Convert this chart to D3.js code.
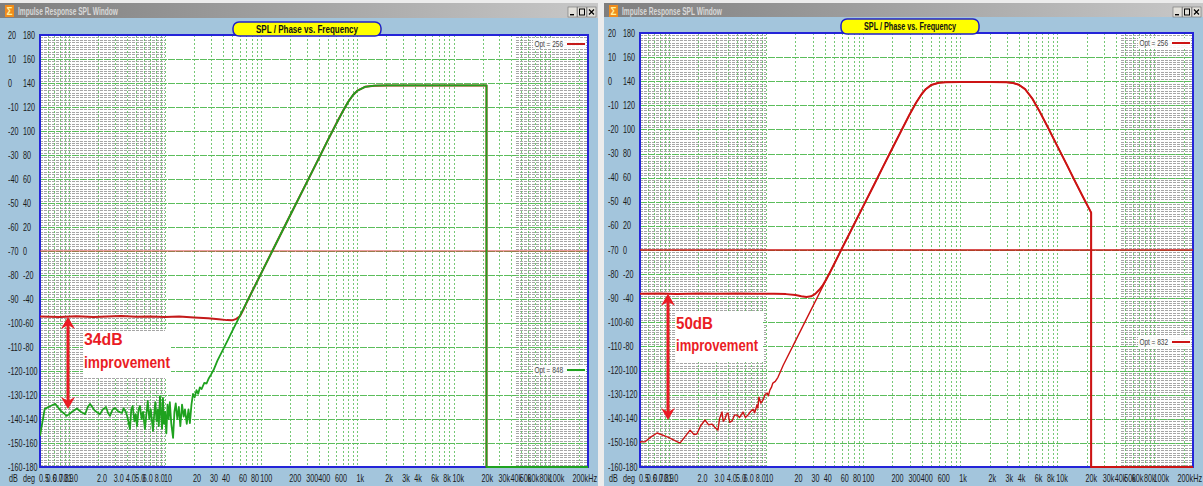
<!DOCTYPE html>
<html>
<head>
<meta charset="utf-8">
<script src="https://cdn.jsdelivr.net/npm/d3@7"></script>
<style>
  body { margin: 0; background: #ececec; }
  svg { display: block; }
  .narrow { font-family: 'Liberation Sans', Arial, sans-serif; }
</style>
</head>
<body>
<svg id="chart" width="1203" height="486"></svg>
<script>
// ---- axis values ----
const dbTicks = [20, 10, 0, -10, -20, -30, -40, -50, -60, -70, -80, -90, -100, -110, -120, -130, -140, -150, -160];
const degTicks = [180, 160, 140, 120, 100, 80, 60, 40, 20, 0, -20, -40, -60, -80, -100, -120, -140, -160, -180];
const freqTicks = [0.5, 0.6, 0.7, 0.8, 0.9, 1, 2, 3, 4, 5, 6, 8, 10, 20, 30, 40, 60, 80, 100, 200, 300, 400, 600,
  1000, 2000, 3000, 4000, 6000, 8000, 10000, 20000, 30000, 40000, 50000, 60000, 80000, 100000, 200000];
const freqTickLabels = ["0.5", "0.6", "0.7", "0.8", "0.9", "1.0", "2.0", "3.0", "4.0", "5.0", "6.0", "8.0", "10", "20", "30", "40", "60", "80", "100", "200", "300", "400", "600",
  "1k", "2k", "3k", "4k", "6k", "8k", "10k", "20k", "30k", "40k", "50k", "60k", "80k", "100k", "200kHz"];
const freqDomain = [0.5, 250000];
const dbDomain = [-160, 20];
const degDomain = [-180, 180];
// shaded bands outside the valid measurement range (Hz)
const hatchBands = [[0.5, 10], [45000, 250000]];

// ---- left window: SPL [Hz, dB] ----
const leftOpt256 = [[0.5, -97.3], [0.8, -97.5], [1.2, -97.2], [1.8, -97.5], [2.5, -97.3], [3.5, -97.1], [5, -97.4], [7, -97.3],
  [10, -97.5], [14, -97.3], [20, -97.7], [28, -98.0], [36, -98.4], [44, -98.8], [50, -98.9], [55, -98.3], [60, -97.2],
  [65, -94.5], [70, -91.7], [80, -87.0], [100, -79.2], [150, -65.1], [200, -55.1], [300, -41.1], [400, -31.1], [500, -23.3],
  [600, -17.1], [700, -12.0], [800, -7.9], [900, -5.0], [1000, -3.2], [1200, -1.6], [1500, -1.1], [2000, -1.0],
  [22000, -1.0], [22000, -160], [250000, -160]];
const leftOpt848 = [[0.5, -147], [0.51, -145], [0.56, -135.8], [0.65, -134.5], [0.72, -133.7], [0.82, -136.5], [0.95, -138.7],
  [1.08, -137], [1.21, -135.6], [1.33, -137], [1.47, -138], [1.57, -135], [1.66, -133.7], [1.85, -136.5], [2.1, -138],
  [2.25, -136], [2.43, -135], [2.55, -137.5], [2.67, -138.7], [2.85, -136], [3.01, -135.4], [3.25, -136.8], [3.56, -137.5],
  [3.7, -135.5], [3.9, -137], [4.05, -139], [4.31, -144.2], [4.45, -136], [4.6, -134.6], [4.8, -141], [4.95, -138],
  [5.1, -143], [5.3, -136], [5.48, -134.6], [5.7, -140], [5.9, -137], [6.17, -144.2], [6.35, -139], [6.6, -132.5],
  [6.85, -140], [7.1, -136], [7.48, -145], [7.7, -138], [7.9, -133], [8.15, -141], [8.4, -136], [8.6, -143], [8.84, -130.5],
  [9.1, -139], [9.3, -144], [9.5, -131.2], [9.75, -142], [10.0, -137], [10.3, -146], [10.6, -134], [10.9, -140],
  [11.2, -133], [11.6, -142], [12.1, -147.9], [12.5, -137], [12.9, -133.5], [13.4, -140], [13.9, -135], [14.4, -143],
  [15.0, -134], [15.6, -139], [16.1, -136], [16.8, -142], [17.5, -136], [18.1, -141.7], [18.8, -134], [19.5, -129.5],
  [20.3, -131], [21.2, -128], [22.1, -129.5], [23, -126.8], [24, -127.5], [25.5, -125], [27, -125.2], [28.5, -123],
  [30, -121.5], [32, -119.5], [35, -115.7], [40, -111.1], [45, -107.0], [50, -103.3], [60, -97.0], [70, -91.6], [80, -87.0],
  [100, -79.2], [150, -65.1], [200, -55.1], [300, -41.1], [400, -31.1], [500, -23.3], [600, -17.1], [700, -12.0],
  [800, -7.9], [900, -5.0], [1000, -3.2], [1200, -1.6], [1500, -1.1], [2000, -1.0], [22000, -1.0], [22000, -160], [250000, -160]];
const leftPhase = [[0.5, 0], [250000, 0]];

// ---- right window: SPL [Hz, dB] ----
const rightOpt256 = [[0.5, -88.1], [0.8, -88.0], [1.2, -88.2], [2, -88.0], [3, -88.1], [5, -88.0], [8, -88.1], [12, -88.1],
  [16, -88.3], [20, -88.7], [23, -89.2], [26, -89.5], [29, -89.2], [32, -88.2], [35, -86.6], [38, -84.8], [42, -81.8],
  [46, -78.8], [50, -75.9], [60, -69.5], [70, -64.2], [80, -59.5], [100, -51.8], [130, -42.7], [160, -35.4], [200, -27.7],
  [250, -20.0], [300, -13.8], [350, -8.9], [400, -5.3], [440, -3.3], [500, -1.6], [600, -0.65], [700, -0.4], [1000, -0.3],
  [2000, -0.3], [3000, -0.43], [3500, -0.73], [4000, -1.44], [4650, -3.3], [5500, -7.1], [6500, -12.2], [8000, -19.2],
  [10000, -26.9], [12500, -34.6], [15000, -41.0], [18000, -47.3], [22300, -54.5], [22300, -160], [250000, -160]];
const rightOpt832 = [[0.5, -150], [0.51, -149.5], [0.56, -149.6], [0.65, -147.5], [0.75, -145.9], [0.97, -147.6], [1.29, -150.1],
  [1.45, -147.5], [1.64, -144.7], [1.8, -146.5], [1.93, -146.3], [2.1, -143], [2.34, -140.5], [2.55, -142.5], [2.76, -142.2],
  [2.95, -143.5], [3.18, -144.7], [3.3, -140], [3.5, -137.2], [3.6, -141], [3.76, -140.1], [3.9, -138], [4.03, -137.6],
  [4.2, -141.5], [4.44, -140.9], [4.7, -138.5], [5.0, -138.4], [5.3, -139.5], [5.76, -137.2], [6.1, -139.5], [6.49, -138.4],
  [6.9, -137], [7.31, -136.0], [7.6, -137.5], [8.03, -134.3], [8.2, -135.5], [8.4, -131.0], [8.8, -133.5], [9.27, -132.2],
  [9.7, -130], [10.2, -129.3], [10.5, -130.5], [10.9, -128.1], [11.3, -127], [11.7, -125.2], [12.4, -124.5], [13.2, -122.8],
  [15, -117.7], [20, -107.7], [25, -99.9], [30, -93.6], [40, -83.6], [50, -75.9], [60, -69.5], [70, -64.2], [80, -59.5],
  [100, -51.8], [130, -42.7], [160, -35.4], [200, -27.7], [250, -20.0], [300, -13.8], [350, -8.9], [400, -5.3], [440, -3.3],
  [500, -1.6], [600, -0.65], [700, -0.4], [1000, -0.3], [2000, -0.3], [3000, -0.43], [3500, -0.73], [4000, -1.44],
  [4650, -3.3], [5500, -7.1], [6500, -12.2], [8000, -19.2], [10000, -26.9], [12500, -34.6], [15000, -41.0], [18000, -47.3],
  [22300, -54.5], [22300, -160], [250000, -160]];
const rightPhase = [[0.5, 0], [250000, 0]];

// improvement markers: [dB at top, dB at bottom]
const leftImprovement = [-97.5, -135.8];
const rightImprovement = [-88.1, -140.5];

const panels = [
  {
    id: "L", ox: 0, w: 598, barBottom: 18,
    plot: { l: 40, r: 588, t: 35, b: 467 },
    title: { x: 233, y: 22, w: 148, h: 14 },
    series: [
      { data: leftPhase, color: "#d83a3a", width: 1, scale: "deg" },
      { data: leftOpt256, color: "#c41a1a", width: 2 },
      { data: leftOpt848, color: "#1fa21f", width: 1.8 }
    ],
    legends: [
      { label: "Opt = 256", color: "#c41a1a", y: 44 },
      { label: "Opt = 848", color: "#1fa21f", y: 370 }
    ],
    arrow: { x: 68, range: leftImprovement },
    note: { text: ["34dB", "improvement"], x: 84, y: [345, 368], box: [83, 331, 88, 47], len: 86 }
  },
  {
    id: "R", ox: 604, w: 599, barBottom: 17,
    plot: { l: 640, r: 1193, t: 33, b: 467 },
    title: { x: 841, y: 19, w: 138, h: 15 },
    series: [
      { data: rightPhase, color: "#cc1414", width: 1.5, scale: "deg" },
      { data: rightOpt832, color: "#cc1414", width: 1.4 },
      { data: rightOpt256, color: "#cc1414", width: 2 }
    ],
    legends: [
      { label: "Opt = 256", color: "#cc1414", y: 43 },
      { label: "Opt = 832", color: "#cc1414", y: 342 }
    ],
    arrow: { x: 668, range: rightImprovement },
    note: { text: ["50dB", "improvement"], x: 676, y: [329, 351], box: [675, 313, 88, 49], len: 82 }
  }
];

const svg = d3.select("#chart");
const defs = svg.append("defs");
const grad = defs.append("linearGradient").attr("id", "titlebar").attr("x1", 0).attr("x2", 1);
grad.append("stop").attr("offset", 0).attr("stop-color", "#7e7e7e");
grad.append("stop").attr("offset", 1).attr("stop-color", "#c8c8c8");

// condensed label: the UI font is a narrow face, so glyphs are squeezed horizontally
const SQUEEZE = 0.72;
function narrowLabel(sel, x, y, txt, anchor) {
  return sel.append("text").attr("class", "narrow")
    .attr("transform", `translate(${x},${y}) scale(${SQUEEZE},1)`)
    .attr("text-anchor", anchor || "start").text(txt);
}

panels.forEach(p => {
  const g = svg.append("g");
  const P = p.plot;
  const x = d3.scaleLog().domain(freqDomain).range([P.l, P.r]);
  const y = d3.scaleLinear().domain(dbDomain).range([P.b, P.t]);
  const yDeg = d3.scaleLinear().domain(degDomain).range([P.b, P.t]);

  // window body and title bar
  g.append("rect").attr("x", p.ox).attr("y", 3).attr("width", p.w).attr("height", 483).attr("fill", "#a3c5dc");
  g.append("rect").attr("x", p.ox).attr("y", 3).attr("width", p.w).attr("height", p.barBottom - 3).attr("fill", "url(#titlebar)");
  g.append("rect").attr("x", p.ox + 5).attr("y", 5).attr("width", 9).attr("height", 12).attr("fill", "#f08c1c");
  g.append("text").attr("x", p.ox + 9.5).attr("y", 15).attr("text-anchor", "middle")
    .attr("font-size", 10).attr("font-weight", "bold").attr("fill", "#fff2a0").attr("font-family", "Liberation Sans, sans-serif").text("Σ");
  g.append("text").attr("class", "narrow").attr("x", p.ox + 18).attr("y", 14.5)
    .attr("font-size", 10).attr("font-weight", "bold").attr("fill", "#d8d8d8")
    .attr("textLength", 100).attr("lengthAdjust", "spacingAndGlyphs").text("Impulse Response SPL Window");
  // window buttons
  const bx = p.ox + p.w - 30;
  [0, 1, 2].forEach(i => {
    const b = g.append("g").attr("transform", `translate(${bx + i * 9.5},7)`);
    b.append("rect").attr("width", 9).attr("height", 10).attr("fill", "#e2e0da").attr("stroke", "#707070").attr("stroke-width", 0.6);
    if (i === 0) b.append("rect").attr("x", 2).attr("y", 7).attr("width", 4).attr("height", 1.4).attr("fill", "#000");
    if (i === 1) b.append("rect").attr("x", 2).attr("y", 2).attr("width", 5).attr("height", 6).attr("fill", "none").attr("stroke", "#000").attr("stroke-width", 1);
    if (i === 2) b.append("path").attr("d", "M2,2.5L7,7.5M7,2.5L2,7.5").attr("stroke", "#000").attr("stroke-width", 1.2);
  });

  // plot background
  g.append("rect").attr("x", P.l).attr("y", P.t).attr("width", P.r - P.l).attr("height", P.b - P.t).attr("fill", "#ffffff");

  // shaded bands: dense grey dashed rules every 1 dB
  const grid = g.append("g").attr("shape-rendering", "crispEdges");
  hatchBands.forEach(([f0, f1]) => {
    const x0 = x(f0), x1 = Math.min(x(f1), P.r);
    grid.selectAll(null).data(d3.range(dbDomain[0], dbDomain[1], 1)).join("line")
      .attr("x1", x0).attr("x2", x1).attr("y1", d => Math.round(y(d)) + 0.5).attr("y2", d => Math.round(y(d)) + 0.5)
      .attr("stroke", "#a6a6a6").attr("stroke-width", 1).attr("stroke-dasharray", "3,1");
  });
  // vertical frequency grid
  grid.selectAll(null).data(x.ticks().filter(f => f > freqDomain[0] && f < freqDomain[1])).join("line")
    .attr("x1", d => Math.round(x(d)) + 0.5).attr("x2", d => Math.round(x(d)) + 0.5).attr("y1", P.t).attr("y2", P.b)
    .attr("stroke", "#5fbf5f").attr("stroke-width", 1).attr("stroke-dasharray", "2,2").attr("opacity", 0.85);
  // horizontal dB grid
  grid.selectAll(null).data(dbTicks.filter(d => d > dbDomain[0] && d < dbDomain[1])).join("line")
    .attr("x1", P.l).attr("x2", P.r).attr("y1", d => Math.round(y(d)) + 0.5).attr("y2", d => Math.round(y(d)) + 0.5)
    .attr("stroke", "#5cbd5c").attr("stroke-width", 1).attr("stroke-dasharray", "7,1");

  // plot frame
  g.append("rect").attr("x", P.l).attr("y", P.t).attr("width", P.r - P.l).attr("height", P.b - P.t)
    .attr("fill", "none").attr("stroke", "#2424d8").attr("stroke-width", 2);

  // y tick labels (dB and degrees) and x tick labels
  const lab = g.append("g").attr("font-size", 10).attr("fill", "#1a1a1a");
  dbTicks.forEach(d => narrowLabel(lab, P.l - 32, y(d) + 3.5, d));
  degTicks.forEach(d => narrowLabel(lab, P.l - 17, yDeg(d) + 3.5, d));
  narrowLabel(lab, P.l - 31, P.b + 15, "dB");
  narrowLabel(lab, P.l - 17, P.b + 15, "deg");
  freqTicks.forEach((f, i) => {
    const last = i === freqTicks.length - 1;
    narrowLabel(lab, last ? p.ox + p.w - 1 : x(f) - 1, P.b + 15, freqTickLabels[i], last ? "end" : "start");
  });

  // curves
  const clipId = "clip" + p.id;
  defs.append("clipPath").attr("id", clipId).append("rect")
    .attr("x", P.l).attr("y", P.t).attr("width", P.r - P.l).attr("height", P.b - P.t + 1.5);
  const curves = g.append("g").attr("clip-path", `url(#${clipId})`);
  p.series.forEach(s => {
    const ys = s.scale === "deg" ? yDeg : y;
    const line = d3.line().x(d => x(d[0])).y(d => ys(d[1]));
    curves.append("path").attr("d", line(s.data)).attr("fill", "none")
      .attr("stroke", s.color).attr("stroke-width", s.width).attr("stroke-linejoin", "round");
  });

  // legend entries
  p.legends.forEach(l => {
    const lg = g.append("g").attr("font-size", 9).attr("fill", "#444");
    lg.append("rect").attr("x", P.r - 55).attr("y", l.y - 5).attr("width", 53).attr("height", 10).attr("fill", "#ffffff").attr("opacity", 0.9);
    narrowLabel(lg, P.r - 25, l.y + 3, l.label, "end");
    lg.append("line").attr("x1", P.r - 21).attr("x2", P.r - 3).attr("y1", l.y).attr("y2", l.y)
      .attr("stroke", l.color).attr("stroke-width", 2);
  });

  // title tab
  const t = p.title;
  g.append("rect").attr("x", t.x).attr("y", t.y).attr("width", t.w).attr("height", t.h).attr("rx", 6).attr("ry", 6)
    .attr("fill", "#ffff00").attr("stroke", "#2020c8").attr("stroke-width", 1.5);
  g.append("text").attr("class", "narrow").attr("x", t.x + t.w / 2).attr("y", t.y + t.h / 2 + 3.8).attr("text-anchor", "middle")
    .attr("font-size", 11).attr("font-weight", "bold").attr("fill", "#111")
    .attr("textLength", t.w - 46).attr("lengthAdjust", "spacingAndGlyphs").text("SPL / Phase vs. Frequency");

  // improvement annotation
  const n = p.note;
  g.append("rect").attr("x", n.box[0]).attr("y", n.box[1]).attr("width", n.box[2]).attr("height", n.box[3]).attr("fill", "#ffffff");
  const red = "#ea1c24";
  const ay0 = y(p.arrow.range[0]), ay1 = y(p.arrow.range[1]), ax = p.arrow.x;
  g.append("line").attr("x1", ax).attr("x2", ax).attr("y1", ay0 + 6).attr("y2", ay1 - 6)
    .attr("stroke", red).attr("stroke-width", 3);
  g.append("path").attr("d", `M${ax},${ay0} L${ax + 7},${ay0 + 12} L${ax},${ay0 + 8} L${ax - 7},${ay0 + 12} Z`).attr("fill", red);
  g.append("path").attr("d", `M${ax},${ay1} L${ax + 7},${ay1 - 12} L${ax},${ay1 - 8} L${ax - 7},${ay1 - 12} Z`).attr("fill", red);
  n.text.forEach((tx, i) => {
    g.append("text").attr("x", n.x).attr("y", n.y[i]).attr("font-family", "Liberation Sans, Arial, sans-serif")
      .attr("font-size", 16).attr("font-weight", "bold").attr("fill", red)
      .attr("textLength", i === 0 ? n.len * 0.45 : n.len).attr("lengthAdjust", "spacingAndGlyphs").text(tx);
  });
});
</script>
</body>
</html>
